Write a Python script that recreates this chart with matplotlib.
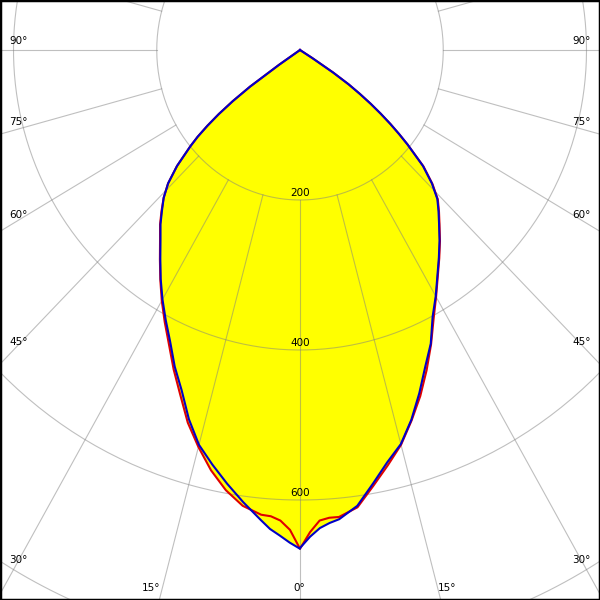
import numpy as np
import matplotlib
matplotlib.use('Agg')
import matplotlib.pyplot as plt

# ===光强分布数据 (cd)，角度从正下方起算
angles = [0, 1.25, 2.5, 3.75, 5, 7.5, 10, 12.5, 15, 17.5, 20, 22.5, 25, 27.5,
          30, 32.5, 35, 37.5, 40, 42, 44, 46, 48, 50,
          51, 52, 53, 54, 55, 56, 57, 58, 59, 60]
c0 = [664, 649, 638, 632, 628, 613, 587, 563, 544, 517, 487, 457, 432, 401,
      379, 357, 338, 320, 302, 289, 276, 256, 231, 196,
      178, 160, 141, 122, 102, 82, 55, 20, 0, 0]
c180 = [665, 657, 648, 640, 629, 608, 587, 566, 545, 516, 483, 457, 429, 406,
        384, 362, 340, 320, 303, 288, 274, 256, 231, 200,
        184, 164, 142, 116, 85, 35, 0, 0, 0, 0]
c90 = [665, 643, 628, 625, 625, 615, 590, 567, 545, 518, 491, 462, 433, 404,
       380, 358, 339, 321, 303, 290, 277, 257, 232, 196,
       178, 160, 141, 122, 102, 82, 55, 20, 0, 0]
c270 = [665, 640, 628, 623, 622, 613, 596, 574, 548, 521, 489, 461, 433, 409,
        386, 363, 341, 321, 304, 289, 274, 256, 231, 200,
        184, 164, 142, 116, 85, 35, 0, 0, 0, 0]

ring_values = [200, 400, 600, 800]
ring_labels = ['200', '400', '600']
angle_labels = ['90°', '75°', '60°', '45°', '30°']


def curve(left, right):
    t = np.radians(angles)
    l = np.array(left, float)
    r = np.array(right, float)
    x = np.concatenate([-(l * np.sin(t))[::-1], r * np.sin(t)])
    y = np.concatenate([-(l * np.cos(t))[::-1], -r * np.cos(t)])
    return x, y


fig = plt.figure(figsize=(6, 6), dpi=100)
ax = fig.add_axes([0, 0, 1, 1])

# 像素比例：竖直 0.75 px/cd，水平略压缩
sy = 0.75
sx = 0.75 * 0.955
ax.set_xlim(-300 / sx, 300 / sx)
ax.set_ylim(-550 / sy, 50 / sy)
ax.set_xticks([])
ax.set_yticks([])
for s in ax.spines.values():
    s.set_color('black')
    s.set_linewidth(2.5)

# ===填充
bx, by = curve(c180, c0)
rx, ry = curve(c270, c90)
ax.fill(bx, by, color='#ffff00', lw=0, zorder=1)
ax.fill(rx, ry, color='#ffff00', lw=0, zorder=1)

# ===网格
t = np.linspace(0, 2 * np.pi, 400)
for v in ring_values:
    ax.plot(v * np.sin(t), v * np.cos(t), color='#808080', alpha=0.5, lw=0.8, zorder=2)
for a in range(0, 360, 15):
    ar = np.radians(a)
    ax.plot([200 * np.sin(ar), 1200 * np.sin(ar)], [-200 * np.cos(ar), -1200 * np.cos(ar)],
            color='#808080', alpha=0.5, lw=0.8, zorder=2)

# ===曲线
ax.plot(rx, ry, color='#e00000', lw=1.5, zorder=3)
ax.plot(bx, by, color='#0000c8', lw=1.5, zorder=4)

# ===文字
for i, lab in enumerate(ring_labels):
    v = ring_values[i]
    ax.text(0, -v + 10, lab, ha='center', va='center', fontsize=7.5, zorder=5)

ys = [41, 122, 215, 342, 560]
for lab, yp in zip(angle_labels, ys):
    fig.text(9 / 600, 1 - yp / 600, lab, ha='left', va='center', fontsize=7.5)
    fig.text(572 / 600, 1 - yp / 600, lab, ha='left', va='center', fontsize=7.5)
for lab, xp in zip(['15°', '0°', '15°'], [151, 299, 447]):
    fig.text(xp / 600, 1 - 588 / 600, lab, ha='center', va='center', fontsize=7.5)

fig.savefig('out.png', dpi=100)
